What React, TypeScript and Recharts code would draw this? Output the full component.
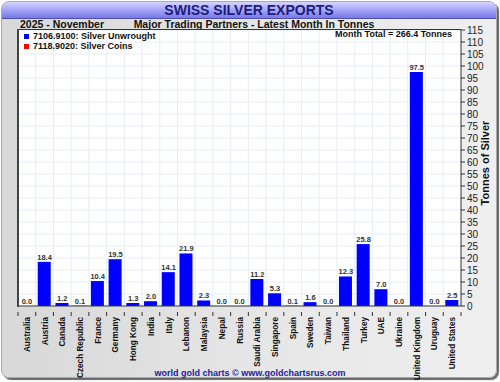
import React from "react";
import { ComposedChart, Bar, Line, XAxis, YAxis, CartesianGrid, LabelList } from "recharts";

const countries = [
  "Australia", "Austria", "Canada", "Czech Republic", "France", "Germany", "Hong Kong",
  "India", "Italy", "Lebanon", "Malaysia", "Nepal", "Russia", "Saudi Arabia", "Singapore",
  "Spain", "Sweden", "Taiwan", "Thailand", "Turkey", "UAE", "Ukraine", "United Kingdom",
  "Uruguay", "United States",
];
const unwrought = [
  0.0, 18.4, 1.2, 0.1, 10.4, 19.5, 1.3, 2.0, 14.1, 21.9, 2.3, 0.0, 0.0, 11.2, 5.3,
  0.1, 1.6, 0.0, 12.3, 25.8, 7.0, 0.0, 97.5, 0.0, 2.5,
];
const yTicks = [0, 5, 10, 15, 20, 25, 30, 35, 40, 45, 50, 55, 60, 65, 70, 75, 80, 85, 90, 95, 100, 105, 110, 115];

const title = "SWISS SILVER EXPORTS";
const period = "2025 - November";
const subtitle = "Major Trading Partners - Latest Month In Tonnes";
const legendItems = [
  { label: "7106.9100: Silver Unwrought", color: "#0000ff" },
  { label: "7118.9020: Silver Coins", color: "#ff0000" },
];
const totalText = "Month Total = 266.4 Tonnes";
const yLabel = "Tonnes of Silver";
const footer = "world gold charts \u00a9 www.goldchartsrus.com";

const data = countries.map((c, i) => ({ name: c, v: unwrought[i] }));

const W = 500;
const H = 382;
const M = { top: 30, right: 0, left: 18, bottom: 20 };
const Y_W = 39;
const X_H = 56;
const plotW = W - M.left - M.right - Y_W;
const plotH = H - M.top - M.bottom - X_H;
const step = plotW / countries.length;
const FONT = "'Liberation Sans', Arial, sans-serif";

const XTick = (props: any) => {
  const { x, y, payload } = props;
  return (
    <g>
      <line x1={x - step / 2} x2={x - step / 2} y1={y - 2} y2={y + 2} stroke="#333" />
      {payload.index === countries.length - 1 ? (
        <line x1={x + step / 2} x2={x + step / 2} y1={y - 2} y2={y + 2} stroke="#333" />
      ) : null}
      <text
        x={0}
        y={0}
        transform={`translate(${x + 3},${y + 3}) rotate(-90)`}
        textAnchor="end"
        fontSize={8.2}
        fontWeight="bold"
        fill="#111"
        fontFamily={FONT}
      >
        {payload.value}
      </text>
    </g>
  );
};

const YLabel = () => {
  const cx = W - Y_W + 28;
  const cy = M.top + plotH / 2 - 5;
  return (
    <text
      transform={`translate(${cx},${cy}) rotate(-90)`}
      textAnchor="middle"
      fontSize={11}
      fontWeight="bold"
      fill="#111"
      fontFamily={FONT}
    >
      {yLabel}
    </text>
  );
};

export default function App() {
  return (
    <div style={{ position: "absolute", left: 0, top: 0, width: W, height: H, fontFamily: FONT }}>
      <div
        style={{
          position: "absolute",
          left: 1,
          top: 1,
          width: 494,
          height: 375,
          borderRadius: 8,
          background: "linear-gradient(90deg, #d8d8d8 0%, #e8e8e8 60%, #efefef 100%)",
          border: "1px solid #aaa",
          boxShadow: "2px 2px 1px #666",
          overflow: "hidden",
        }}
      >
        <div
          style={{
            height: 16,
            background: "linear-gradient(180deg, #d4d4ff 0%, #a0a0f6 55%, #7878ea 100%)",
            borderBottom: "1px solid #5050b0",
            textAlign: "center",
            color: "#1c1c7c",
            fontWeight: "bold",
            fontSize: 14,
            lineHeight: "17px",
          }}
        >
          {title}
        </div>
      </div>
      <div style={{ position: "absolute", left: 20, top: 18, fontSize: 10.5, fontWeight: "bold", color: "#111", lineHeight: "12px" }}>
        {period}
      </div>
      <div style={{ position: "absolute", left: 104, width: 300, textAlign: "center", top: 18, fontSize: 10.5, fontWeight: "bold", color: "#111", lineHeight: "12px" }}>
        {subtitle}
      </div>
      <div style={{ position: "absolute", left: 0, top: 0 }}>
        <ComposedChart width={W} height={H} data={data} margin={M} barSize={13}>
          <CartesianGrid
            stroke="#e6eef6"
            fill="#ffffff"
            verticalCoordinatesGenerator={({ offset }: any) =>
              countries.map((_, i) => offset.left + i * (offset.width / countries.length))
            }
          />
          <XAxis
            dataKey="name"
            interval={0}
            height={X_H}
            tick={<XTick />}
            tickLine={false}
            axisLine={{ stroke: "#333" }}
          />
          <YAxis
            orientation="right"
            width={Y_W}
            domain={[0, 115]}
            ticks={yTicks}
            interval={0}
            tickSize={4}
            tickLine={{ stroke: "#333" }}
            axisLine={{ stroke: "#333" }}
            tick={{ fontSize: 10, fill: "#222", fontFamily: FONT }}
            label={<YLabel />}
          />
          <Bar dataKey="v" fill="#0000ff" isAnimationActive={false} />
          <Line dataKey="v" stroke="none" dot={false} activeDot={false} isAnimationActive={false}>
            <LabelList
              dataKey="v"
              position="top"
              offset={2}
              formatter={(v: any) => Number(v).toFixed(1)}
              style={{ fontSize: 7.5, fontWeight: "bold", fill: "#333", fontFamily: FONT }}
            />
          </Line>
        </ComposedChart>
      </div>
      <div style={{ position: "absolute", left: 17, top: 29, width: 444, height: 1, background: "#333" }} />
      <div style={{ position: "absolute", left: 17, top: 29, width: 2, height: 278, background: "#444" }} />
      {legendItems.map((it, i) => (
        <div key={it.label} style={{ position: "absolute", left: 24, top: 31 + i * 10, fontSize: 9, fontWeight: "bold", color: "#111", lineHeight: "10px", display: "flex", alignItems: "center" }}>
          <span style={{ display: "inline-block", width: 5, height: 5, background: it.color, marginRight: 4 }} />
          {it.label}
        </div>
      ))}
      <div style={{ position: "absolute", right: 48, top: 29, fontSize: 9, fontWeight: "bold", color: "#111", lineHeight: "10px" }}>
        {totalText}
      </div>
      <div style={{ position: "absolute", left: 0, width: W, textAlign: "center", top: 368, fontSize: 9, fontWeight: "bold", color: "#22229a", lineHeight: "11px" }}>
        {footer}
      </div>
    </div>
  );
}
